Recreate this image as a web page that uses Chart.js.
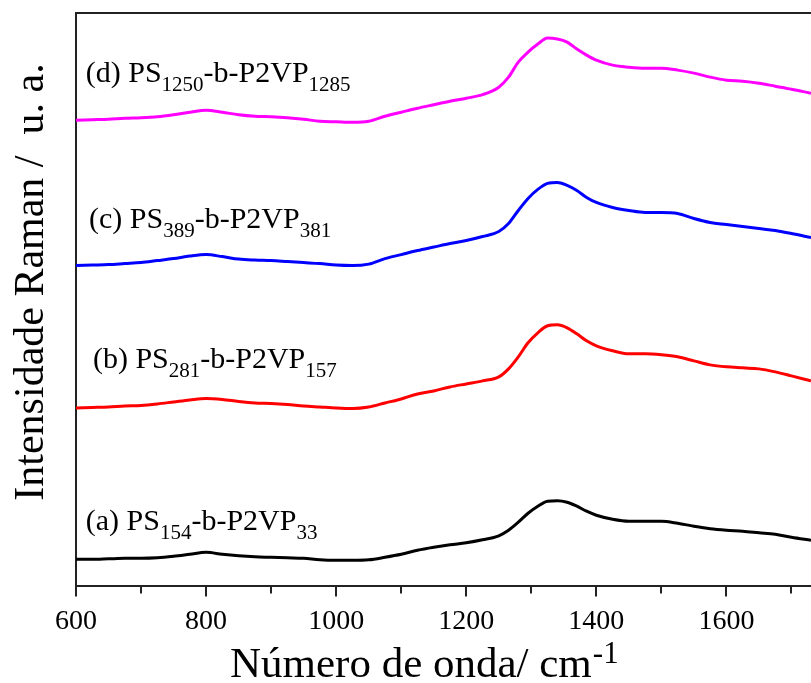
<!DOCTYPE html>
<html>
<head>
<meta charset="utf-8">
<title>Espectros Raman PS-b-P2VP</title>
<script src="https://cdn.jsdelivr.net/npm/chart.js@4/dist/chart.umd.min.js"></script>
<style>
  html, body { margin: 0; padding: 0; background: #fff; overflow: hidden; }
  #wrap { width: 811px; height: 683px; }
</style>
</head>
<body>
<div id="wrap"><canvas id="raman" width="811" height="683"></canvas></div>
<script>
// Raman shift (cm-1) at which each spectrum is sampled
const wavenumbers = [600, 625, 650, 675, 700, 725, 750, 775, 800, 825, 850, 875, 900, 925, 950, 975,
  1000, 1025, 1050, 1075, 1100, 1125, 1150, 1175, 1200, 1225, 1250, 1265, 1280, 1295, 1310, 1325,
  1340, 1355, 1370, 1385, 1400, 1425, 1450, 1475, 1500, 1525, 1550, 1575, 1600, 1625, 1650, 1675,
  1700, 1730];

// Raman intensity (arbitrary units, spectra stacked with vertical offsets)
const intensityA = [27, 27, 27.5, 28, 28, 28.5, 30, 32, 34, 32, 30.5, 29.5, 29, 28.5, 28, 26.5,
  26, 26, 26.5, 29, 32, 36, 39, 41.5, 43.5, 46.5, 50.5, 56, 64, 73, 80, 85,
  85.5, 84, 80, 75, 71, 67, 65, 65, 65, 63, 60, 57.5, 56, 55, 53.5, 52,
  49, 46];
const intensityB = [178, 178.5, 179, 180, 180.5, 182, 184, 186, 187.5, 186.5, 184.5, 183, 182.5, 181.5, 180, 179,
  178, 177.5, 179, 183, 187, 192, 195, 199, 202, 205, 209, 217, 229, 243, 253, 260,
  261, 258, 252, 245, 240, 235, 232, 232, 231, 229, 225, 221, 219, 218, 217, 214,
  210, 205];
const intensityC = [320, 320.5, 321, 322, 323, 325, 327, 329.5, 331, 329, 326.5, 325.5, 325, 324, 323, 322,
  320.5, 320, 321.5, 327, 331, 335, 338.5, 342, 345, 349, 354, 362, 375, 387, 396, 402,
  403, 400, 395, 388, 383, 378, 375, 373, 373, 372, 367, 363, 361, 359, 357, 355,
  352, 348];
const intensityD = [465, 465.5, 466, 467, 467.5, 468.5, 470.5, 473, 475, 473, 470.5, 469, 468.5, 467.5, 466, 464,
  463.5, 463, 464, 469, 473, 477, 480.5, 484, 487, 490.5, 498, 508, 523, 533, 541, 547,
  546, 543, 536, 530, 525, 520, 518, 517, 517, 515, 512, 508, 505, 504, 502, 499,
  496, 492];

// Sample names: alternating normal text and subscript pieces
const sampleA = ['(a) PS', '154', '-b-P2VP', '33'];
const sampleB = ['(b) PS', '281', '-b-P2VP', '157'];
const sampleC = ['(c) PS', '389', '-b-P2VP', '381'];
const sampleD = ['(d) PS', '1250', '-b-P2VP', '1285'];

// Axis ticks
const xMajorTicks = [600, 800, 1000, 1200, 1400, 1600];
const xMinorTicks = [700, 900, 1100, 1300, 1500, 1700];

const SERIF = "'Liberation Serif', 'DejaVu Serif', serif";

function pairs(values) {
  return wavenumbers.map((x, i) => ({ x: x, y: values[i] }));
}

function spectrum(values, color) {
  return {
    data: pairs(values),
    borderColor: color,
    borderWidth: 3,
    pointRadius: 0,
    cubicInterpolationMode: 'monotone',
    fill: false
  };
}

// Name label of each spectrum, anchored in data coordinates
const sampleLabels = [
  { parts: sampleA, x: 615, y: 56 },
  { parts: sampleB, x: 626, y: 218 },
  { parts: sampleC, x: 620, y: 358 },
  { parts: sampleD, x: 615, y: 503 }
];

function drawRich(ctx, x, y, parts, size, subSize, subDrop) {
  let cx = x;
  parts.forEach((t, i) => {
    const sub = i % 2 === 1;
    ctx.font = (sub ? subSize : size) + 'px ' + SERIF;
    ctx.fillText(t, cx, sub ? y + subDrop : y);
    cx += ctx.measureText(t).width;
  });
}

const decorations = {
  id: 'decorations',
  afterDraw(chart) {
    const ctx = chart.ctx;
    const area = chart.chartArea;
    const xs = chart.scales.x;
    const ys = chart.scales.y;
    ctx.save();

    // top frame line
    ctx.strokeStyle = '#222';
    ctx.lineWidth = 2;
    ctx.beginPath();
    ctx.moveTo(area.left - 1, area.top);
    ctx.lineTo(chart.width, area.top);
    ctx.stroke();

    // outward ticks on the wavenumber axis
    ctx.beginPath();
    xMajorTicks.forEach(v => {
      const px = Math.round(xs.getPixelForValue(v));
      ctx.moveTo(px, area.bottom);
      ctx.lineTo(px, area.bottom + 10);
    });
    xMinorTicks.forEach(v => {
      const px = Math.round(xs.getPixelForValue(v));
      ctx.moveTo(px, area.bottom);
      ctx.lineTo(px, area.bottom + 7);
    });
    ctx.stroke();

    // spectrum names
    ctx.fillStyle = '#000';
    ctx.textBaseline = 'alphabetic';
    ctx.textAlign = 'left';
    sampleLabels.forEach(l => {
      drawRich(ctx, xs.getPixelForValue(l.x), ys.getPixelForValue(l.y), l.parts, 30, 21, 9);
    });

    // x axis title with superscript
    ctx.font = '43px ' + SERIF;
    const main = 'Número de onda/ cm';
    const tx = 230, ty = 677;
    ctx.fillText(main, tx, ty);
    const w = ctx.measureText(main).width;
    ctx.font = '31px ' + SERIF;
    ctx.fillText('-1', tx + w + 1, ty - 14);

    // y axis title
    ctx.translate(43, 282);
    ctx.rotate(-Math.PI / 2);
    ctx.textAlign = 'center';
    ctx.font = '42px ' + SERIF;
    ctx.fillText('Intensidade Raman /  u. a.', 0, 0);

    ctx.restore();
  }
};

new Chart(document.getElementById('raman'), {
  type: 'line',
  data: {
    datasets: [
      spectrum(intensityA, '#000000'),
      spectrum(intensityB, '#ff0000'),
      spectrum(intensityC, '#0000ff'),
      spectrum(intensityD, '#ff00ff')
    ]
  },
  options: {
    responsive: false,
    animation: false,
    devicePixelRatio: 1,
    layout: { padding: { left: 76, top: 13, right: 0, bottom: 27 } },
    plugins: { legend: { display: false }, tooltip: { enabled: false } },
    scales: {
      x: {
        type: 'linear',
        min: 600,
        max: 1730,
        afterBuildTicks: scale => {
          scale.ticks = xMajorTicks.map(v => ({ value: v }));
        },
        grid: { display: false, drawTicks: false },
        border: { display: true, color: '#222', width: 2 },
        ticks: {
          autoSkip: false,
          maxRotation: 0,
          padding: 18,
          color: '#000',
          font: { family: SERIF, size: 28 },
          callback: v => String(v)
        }
      },
      y: {
        min: 0,
        max: 572,
        grid: { display: false, drawTicks: false },
        border: { display: true, color: '#222', width: 2 },
        ticks: { display: false }
      }
    }
  },
  plugins: [decorations]
});
</script>
</body>
</html>
